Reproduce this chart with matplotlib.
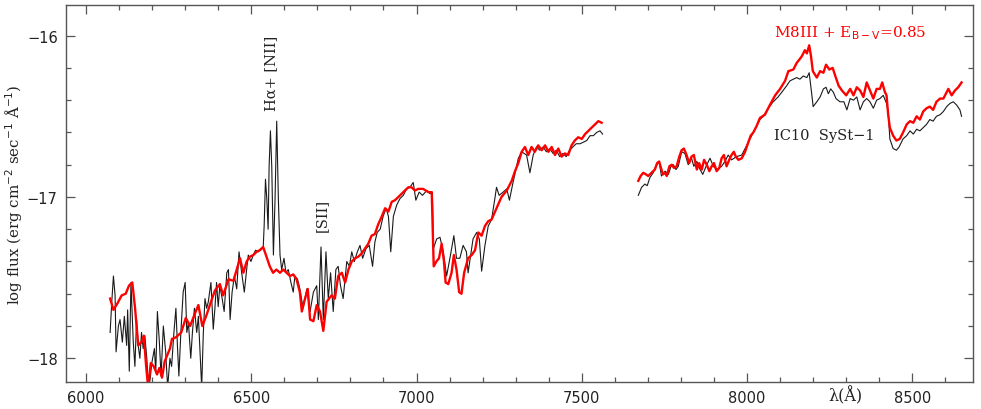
import numpy as np
import matplotlib
matplotlib.use("Agg")
import matplotlib.pyplot as plt
from matplotlib.ticker import MultipleLocator

# ---------------- data ----------------
# observed spectrum IC10 SySt-1, blue segment
obs_wave_1 = [6073, 6078, 6083, 6088, 6091, 6098, 6103, 6110, 6116, 6123, 6126, 6131, 6136,
              6143, 6148, 6153, 6158, 6163, 6168, 6173, 6178, 6184, 6189, 6194, 6199, 6207,
              6211, 6216, 6222, 6227, 6234, 6241, 6247, 6254, 6259, 6266, 6272, 6277, 6281,
              6287, 6294, 6300, 6305, 6310, 6317, 6322, 6328, 6335, 6340, 6345, 6350, 6355,
              6360, 6365, 6370, 6378, 6385, 6390, 6395, 6400, 6405, 6412, 6418, 6426, 6431,
              6436, 6442, 6449, 6456, 6463, 6471, 6479, 6486, 6491, 6499, 6506, 6513, 6521,
              6529, 6536, 6539, 6543, 6547, 6551, 6554, 6558, 6562, 6567, 6572, 6577, 6582,
              6587, 6592, 6599, 6605, 6612, 6620, 6627, 6632, 6640, 6647, 6657, 6668, 6678,
              6688, 6698, 6703, 6711, 6718, 6726, 6733, 6740, 6748, 6756, 6763, 6770, 6778,
              6789, 6797, 6804, 6812, 6821, 6829, 6837, 6847, 6857, 6867, 6874, 6881, 6890,
              6899, 6908, 6915, 6922, 6930, 6940, 6950, 6960, 6970, 6980, 6990, 6998, 7008,
              7018, 7031, 7041, 7048, 7051, 7061, 7071, 7081, 7091, 7101, 7113, 7121, 7131,
              7141, 7151, 7156, 7164, 7171, 7182, 7190, 7197, 7207, 7217, 7227, 7237, 7242,
              7250, 7262, 7273, 7281, 7293, 7308, 7318, 7333, 7343, 7353, 7363, 7373, 7383,
              7393, 7403, 7413, 7423, 7433, 7443, 7453, 7463, 7473, 7483, 7495, 7505, 7515,
              7525, 7535, 7545, 7555, 7563]
obs_flux_1 = [-17.84, -17.65, -17.49, -17.61, -17.96, -17.80, -17.76, -17.90, -17.74, -17.92,
              -17.70, -18.08, -17.53, -17.90, -18.05, -17.76, -17.92, -18.00, -17.84, -17.94,
              -17.86, -18.00, -18.18, -18.13, -18.03, -17.94, -18.09, -17.71, -17.90, -18.11,
              -17.80, -17.96, -18.18, -18.00, -18.05, -17.84, -17.69, -17.94, -18.11, -17.84,
              -17.59, -17.53, -17.84, -17.78, -18.00, -17.84, -17.69, -17.84, -17.74, -17.96,
              -18.18, -17.84, -17.63, -17.69, -17.65, -17.53, -17.82, -17.69, -17.53, -17.68,
              -17.55, -17.63, -17.71, -17.47, -17.45, -17.76, -17.59, -17.49, -17.57, -17.34,
              -17.47, -17.59, -17.45, -17.36, -17.40, -17.36, -17.33, -17.34, -17.32, -17.32,
              -17.18, -16.89, -17.01, -17.20, -16.81, -16.59, -16.81, -17.36, -17.01, -16.53,
              -17.01, -17.36, -17.45, -17.38, -17.47, -17.45, -17.53, -17.59, -17.49, -17.51,
              -17.57, -17.69, -17.57, -17.71, -17.59, -17.55, -17.76, -17.31, -17.76, -17.34,
              -17.63, -17.47, -17.71, -17.45, -17.43, -17.55, -17.63, -17.40, -17.43, -17.34,
              -17.40, -17.34, -17.30, -17.38, -17.32, -17.30, -17.43, -17.28, -17.22, -17.20,
              -17.12, -17.07, -17.12, -17.34, -17.12, -17.05, -17.01, -16.99, -16.95, -16.94,
              -16.91, -17.02, -16.97, -16.99, -16.96, -16.98, -16.97, -17.32, -17.26, -17.25,
              -17.34, -17.49, -17.38, -17.24, -17.38, -17.38, -17.30, -17.34, -17.47, -17.36,
              -17.26, -17.22, -17.26, -17.46, -17.30, -17.18, -17.14, -17.01, -16.94, -16.99,
              -16.97, -16.95, -17.02, -16.90, -16.76, -16.72, -16.74, -16.85, -16.74, -16.69,
              -16.71, -16.69, -16.72, -16.70, -16.73, -16.71, -16.75, -16.73, -16.75, -16.71,
              -16.69, -16.67, -16.67, -16.66, -16.65, -16.62, -16.62, -16.60, -16.59, -16.61]

# observed spectrum, red segment
obs_wave_2 = [7671, 7681, 7691, 7698, 7706, 7716, 7726, 7734, 7741, 7752, 7762, 7770, 7777,
              7785, 7792, 7802, 7812, 7822, 7832, 7839, 7848, 7858, 7866, 7878, 7888, 7898,
              7908, 7923, 7933, 7943, 7953, 7968, 7984, 7999, 8009, 8019, 8029, 8039, 8049,
              8064, 8079, 8094, 8109, 8120, 8130, 8140, 8150, 8160, 8170, 8181, 8188, 8195,
              8200, 8211, 8221, 8231, 8239, 8246, 8253, 8261, 8269, 8281, 8293, 8302, 8312,
              8322, 8332, 8342, 8352, 8362, 8372, 8382, 8392, 8402, 8412, 8422, 8427, 8432,
              8442, 8452, 8460, 8472, 8483, 8493, 8503, 8513, 8523, 8533, 8543, 8553, 8563,
              8573, 8584, 8594, 8604, 8614, 8624, 8634, 8644, 8649]
obs_flux_2 = [-16.99, -16.94, -16.92, -16.93, -16.88, -16.85, -16.80, -16.78, -16.87, -16.84,
              -16.86, -16.81, -16.80, -16.83, -16.81, -16.72, -16.73, -16.80, -16.76, -16.81,
              -16.78, -16.83, -16.86, -16.80, -16.76, -16.81, -16.83, -16.81, -16.78, -16.74,
              -16.77, -16.75, -16.74, -16.68, -16.64, -16.60, -16.56, -16.52, -16.50, -16.45,
              -16.41, -16.38, -16.34, -16.31, -16.28, -16.27, -16.26, -16.27, -16.25, -16.26,
              -16.23, -16.35, -16.44, -16.41, -16.38, -16.33, -16.32, -16.36, -16.33, -16.35,
              -16.39, -16.41, -16.41, -16.46, -16.39, -16.40, -16.38, -16.46, -16.41, -16.39,
              -16.41, -16.45, -16.40, -16.39, -16.37, -16.42, -16.47, -16.64, -16.70, -16.71,
              -16.69, -16.64, -16.62, -16.59, -16.61, -16.58, -16.59, -16.57, -16.55, -16.52,
              -16.53, -16.50, -16.49, -16.47, -16.44, -16.42, -16.41, -16.43, -16.46, -16.50]

# M8III template reddened with E(B-V)=0.85, blue segment
mod_wave_1 = [6073, 6083, 6095, 6108, 6120, 6130, 6140, 6148, 6158, 6168, 6175, 6182, 6188,
              6196, 6205, 6215, 6222, 6230, 6238, 6246, 6254, 6260, 6272, 6288, 6302, 6315,
              6330, 6340, 6352, 6365, 6378, 6390, 6405, 6415, 6431, 6446, 6456, 6466, 6476,
              6486, 6496, 6506, 6516, 6526, 6536, 6546, 6556, 6566, 6576, 6587, 6597, 6607,
              6617, 6627, 6637, 6647, 6653, 6660, 6671, 6678, 6688, 6698, 6708, 6718, 6728,
              6743, 6753, 6763, 6774, 6784, 6794, 6804, 6814, 6824, 6834, 6844, 6854, 6864,
              6874, 6884, 6895, 6905, 6915, 6925, 6935, 6945, 6955, 6965, 6975, 6985, 6995,
              7005, 7020, 7036, 7046, 7052, 7060, 7068, 7076, 7083, 7088, 7096, 7106, 7113,
              7121, 7129, 7136, 7144, 7156, 7167, 7177, 7187, 7197, 7207, 7217, 7227, 7242,
              7257, 7273, 7288, 7298, 7308, 7318, 7328, 7338, 7348, 7358, 7368, 7379, 7389,
              7399, 7409, 7419, 7429, 7439, 7449, 7459, 7469, 7479, 7489, 7500, 7510, 7520,
              7530, 7540, 7550, 7560]
mod_flux_1 = [-17.63, -17.70, -17.66, -17.61, -17.60, -17.55, -17.53, -17.68, -17.92, -17.90,
              -17.86, -18.05, -18.18, -18.03, -18.05, -18.10, -18.06, -18.12, -18.02, -17.98,
              -17.94, -17.88, -17.87, -17.84, -17.75, -17.80, -17.72, -17.67, -17.80, -17.73,
              -17.65, -17.58, -17.54, -17.61, -17.51, -17.52, -17.45, -17.38, -17.47, -17.40,
              -17.37, -17.36, -17.34, -17.33, -17.31, -17.37, -17.43, -17.47, -17.45, -17.47,
              -17.45, -17.47, -17.49, -17.48, -17.51, -17.59, -17.71, -17.65, -17.57, -17.76,
              -17.77, -17.67, -17.71, -17.83, -17.65, -17.61, -17.63, -17.49, -17.47, -17.53,
              -17.45, -17.40, -17.38, -17.37, -17.35, -17.32, -17.29, -17.24, -17.23, -17.17,
              -17.12, -17.07, -17.09, -17.03, -17.02, -17.00, -16.98, -16.96, -16.94, -16.94,
              -16.96, -16.95, -16.95, -16.97, -16.97, -17.43, -17.40, -17.38, -17.29, -17.40,
              -17.53, -17.54, -17.47, -17.36, -17.45, -17.59, -17.60, -17.47, -17.38, -17.36,
              -17.33, -17.22, -17.24, -17.18, -17.15, -17.14, -17.07, -17.00, -16.96, -16.90,
              -16.84, -16.79, -16.72, -16.69, -16.74, -16.69, -16.72, -16.68, -16.71, -16.68,
              -16.72, -16.69, -16.74, -16.70, -16.75, -16.73, -16.74, -16.68, -16.65, -16.63,
              -16.64, -16.61, -16.59, -16.57, -16.55, -16.53, -16.54]

# template, red segment
mod_wave_2 = [7671, 7678, 7686, 7694, 7701, 7711, 7721, 7728, 7734, 7741, 7746, 7752, 7757,
              7765, 7772, 7779, 7787, 7795, 7802, 7809, 7817, 7825, 7832, 7839, 7848, 7855,
              7863, 7870, 7878, 7886, 7893, 7900, 7908, 7916, 7923, 7930, 7938, 7946, 7953,
              7960, 7966, 7974, 7984, 7994, 8004, 8011, 8019, 8029, 8039, 8054, 8069, 8085,
              8100, 8115, 8125, 8140, 8150, 8165, 8175, 8181, 8188, 8193, 8199, 8211, 8221,
              8231, 8239, 8249, 8259, 8267, 8277, 8287, 8300, 8312, 8322, 8332, 8342, 8352,
              8362, 8372, 8382, 8392, 8402, 8409, 8417, 8422, 8427, 8432, 8442, 8452, 8462,
              8472, 8483, 8493, 8503, 8513, 8523, 8533, 8543, 8553, 8563, 8573, 8584, 8594,
              8609, 8619, 8629, 8639, 8649]
mod_flux_2 = [-16.90, -16.87, -16.85, -16.86, -16.87, -16.85, -16.83, -16.79, -16.78, -16.83,
              -16.86, -16.85, -16.87, -16.81, -16.80, -16.82, -16.81, -16.75, -16.71, -16.70,
              -16.74, -16.79, -16.75, -16.74, -16.83, -16.79, -16.83, -16.77, -16.80, -16.84,
              -16.81, -16.79, -16.84, -16.82, -16.76, -16.74, -16.81, -16.77, -16.74, -16.72,
              -16.75, -16.77, -16.76, -16.72, -16.66, -16.62, -16.60, -16.56, -16.51, -16.49,
              -16.43, -16.37, -16.33, -16.28, -16.22, -16.21, -16.17, -16.13, -16.09, -16.11,
              -16.06, -16.12, -16.22, -16.26, -16.22, -16.23, -16.18, -16.21, -16.20, -16.25,
              -16.31, -16.34, -16.37, -16.33, -16.37, -16.32, -16.34, -16.38, -16.29, -16.34,
              -16.39, -16.33, -16.33, -16.29, -16.35, -16.37, -16.49, -16.57, -16.62, -16.65,
              -16.64, -16.60, -16.55, -16.53, -16.54, -16.50, -16.52, -16.47, -16.45, -16.44,
              -16.46, -16.41, -16.39, -16.39, -16.33, -16.37, -16.34, -16.32, -16.29]

x_ticks = [6000, 6500, 7000, 7500, 8000, 8500]
y_ticks = [-18, -17, -16]
y_tick_labels = ["\u221218", "\u221217", "\u221216"]

# ---------------- figure ----------------
W, H = 981, 410
fig = plt.figure(figsize=(W / 100, H / 100), dpi=100)
ax = fig.add_axes([66 / W, 1 - 383 / H, (973 - 66) / W, (383 - 6) / H])

black = "#1a1a1a"
red = "#ff0000"
ax.plot(obs_wave_1, obs_flux_1, color=black, lw=0.8, zorder=2)
ax.plot(obs_wave_2, obs_flux_2, color=black, lw=0.8, zorder=2)
ax.plot(mod_wave_1, mod_flux_1, color=red, lw=1.7, zorder=3)
ax.plot(mod_wave_2, mod_flux_2, color=red, lw=1.7, zorder=3)

ax.set_xlim(5939.5, 8683.6)
ax.set_ylim(-18.147, -15.81)

ax.set_xticks(x_ticks)
ax.set_yticks(y_ticks)
ax.set_yticklabels(y_tick_labels)
ax.xaxis.set_minor_locator(MultipleLocator(100))
ax.yaxis.set_minor_locator(MultipleLocator(0.2))
ax.tick_params(which="both", direction="in", top=True, right=True,
               color="#555555", labelcolor="#222222", labelsize=10.5)
ax.tick_params(which="major", length=6.5, width=0.9)
ax.tick_params(which="minor", length=3.5, width=0.9)
ax.tick_params(axis="x", pad=6)
ax.tick_params(axis="y", pad=6)
for s in ax.spines.values():
    s.set_color("#555555")
    s.set_linewidth(1.0)

serif = "DejaVu Serif"
fig.text(14 / W, 1 - 194.5 / H, "log flux (erg cm$^{-2}$ sec$^{-1}$ \u00c5$^{-1}$)",
         rotation=90, ha="center", va="center", fontsize=10.8, family=serif, color="#222222")
ax.text(8297, -18.147 - 0.083, "\u03bb(\u00c5)", ha="center", va="center",
        fontsize=11.5, family=serif, color="#222222")

ax.text(6559, -16.46, "H\u03b1+ [NII]", rotation=90, ha="center", va="bottom",
        fontsize=10.5, family=serif, color="#222222")
ax.text(6715, -17.21, "[SII]", rotation=90, ha="center", va="bottom",
        fontsize=10.5, family=serif, color="#222222")
ax.text(8082, -16.006, "M8III + E$_{\\rm B-V}$=0.85", ha="left", va="baseline",
        fontsize=11, family=serif, color=red)
ax.text(8082, -16.64, "IC10  SySt\u22121", ha="left", va="baseline",
        fontsize=10.5, family=serif, color="#222222")

fig.savefig("out.png", dpi=100)
